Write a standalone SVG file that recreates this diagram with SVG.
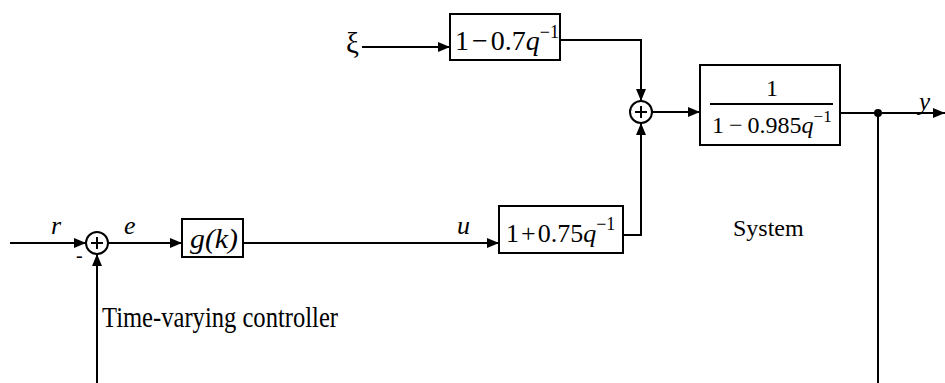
<svg xmlns="http://www.w3.org/2000/svg" width="945" height="383" viewBox="0 0 945 383">
<defs>
<marker id="ah" viewBox="0 0 12 10" refX="12" refY="5" markerWidth="12" markerHeight="10" markerUnits="userSpaceOnUse" orient="auto">
<path d="M0,0 L12,5 L0,10 z" fill="#000"/>
</marker>
<style>
.ln{fill:none;stroke:#000;stroke-width:2}
.ar{fill:none;stroke:#000;stroke-width:2;marker-end:url(#ah)}
.bx{fill:#fff;stroke:#000;stroke-width:2}
.t{font-family:"Liberation Serif","Times New Roman",serif;fill:#000}
.i{font-style:italic}
</style>
</defs>
<rect width="945" height="383" fill="#fff"/>
<g id="connectors">
<path class="ar" d="M362,47 H450"/>
<path class="ar" d="M560,40 H641 V101"/>
<path class="ar" d="M652,112 H700"/>
<path class="ar" d="M840,113 H945"/>
<path class="ln" d="M878,113 V383"/>
<circle cx="878" cy="113" r="4" fill="#000"/>
<path class="ar" d="M10,243 H86"/>
<path class="ar" d="M108,243 H182"/>
<path class="ar" d="M243,243 H499"/>
<path class="ar" d="M623,235 H641 V123"/>
<path class="ar" d="M97,383 V254"/>
</g>
<g id="xi"><text class="t" x="346" y="53" font-size="29">ξ</text></g>
<g id="noise_filter">
<rect class="bx" x="450" y="14" width="110" height="46"/>
<text class="t" x="455" y="50" font-size="28">1<tspan dx="3">−</tspan><tspan dx="3">0.7</tspan><tspan class="i">q</tspan><tspan dy="-12" font-size="18">−1</tspan></text>
</g>
<g id="sum2">
<circle class="ln" cx="641" cy="112" r="11"/>
<path class="ln" d="M635,112 H647 M641,106 V118" stroke-width="1.5"/>
</g>
<g id="system">
<rect class="bx" x="700" y="65" width="140" height="80"/>
<text class="t" x="772" y="96" font-size="24" text-anchor="middle">1</text>
<path class="ln" d="M710,104 H833" stroke-width="1.5"/>
<text class="t" x="712" y="133" font-size="24">1<tspan dx="5">−</tspan><tspan dx="5">0.985</tspan><tspan class="i">q</tspan><tspan dy="-11" font-size="17">−1</tspan></text>
<text class="t" x="733" y="236" font-size="24">System</text>
</g>
<g id="output"><text class="t i" x="919" y="110" font-size="25">y</text></g>
<g id="sum1">
<circle class="ln" cx="97" cy="243" r="11"/>
<path class="ln" d="M91,243 H103 M97,237 V249" stroke-width="1.5"/>
<text class="t" x="76" y="262" font-size="20">-</text>
</g>
<g id="labels">
<text class="t i" x="51" y="234" font-size="26">r</text>
<text class="t i" x="124" y="234" font-size="26">e</text>
<text class="t i" x="457" y="234" font-size="26">u</text>
</g>
<g id="controller">
<rect class="bx" x="182" y="219" width="61" height="38"/>
<text class="t i" x="190" y="248" font-size="27" textLength="48" lengthAdjust="spacingAndGlyphs">g(k)</text>
<text class="t" x="102" y="327" font-size="29" textLength="236" lengthAdjust="spacingAndGlyphs">Time-varying controller</text>
</g>
<g id="plant_input">
<rect class="bx" x="499" y="206" width="124" height="47"/>
<text class="t" x="506" y="242" font-size="26">1<tspan dx="2">+</tspan><tspan dx="2">0.75</tspan><tspan class="i">q</tspan><tspan dy="-12" font-size="18">−1</tspan></text>
</g>
</svg>
